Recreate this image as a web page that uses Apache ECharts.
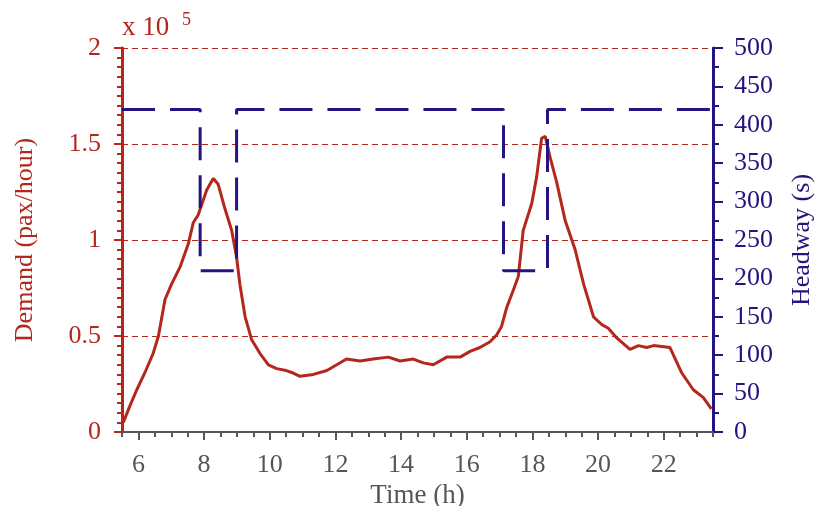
<!DOCTYPE html>
<html>
<head>
<meta charset="utf-8">
<script src="https://cdn.jsdelivr.net/npm/echarts@6/dist/echarts.min.js"></script>
<style>
  html, body { margin: 0; padding: 0; background: #fff; }
  #main { width: 828px; height: 506px; }
</style>
</head>
<body>
<div id="main"></div>
<script>
// 需求曲线（单位 x10^5 pax/hour）
var demandTime = [5.54, 5.75, 5.95, 6.2, 6.45, 6.61, 6.81, 7.01, 7.27, 7.52, 7.67, 7.82, 8.08, 8.28, 8.43,
  8.64, 8.84, 8.99, 9.09, 9.25, 9.45, 9.7, 9.96, 10.21, 10.5, 10.67, 10.92, 11.33, 11.74, 12.04,
  12.34, 12.75, 13.15, 13.61, 13.97, 14.37, 14.68, 14.98, 15.39, 15.8, 16.1, 16.4, 16.71, 16.91,
  17.06, 17.22, 17.42, 17.57, 17.72, 17.98, 18.13, 18.28, 18.39, 18.54, 18.74, 19.0, 19.3, 19.56,
  19.86, 20.11, 20.31, 20.57, 20.97, 21.23, 21.48, 21.69, 22.19, 22.54, 22.9, 23.2, 23.45];
var demandValue = [0.05, 0.14, 0.22, 0.31, 0.41, 0.5, 0.69, 0.77, 0.86, 0.98, 1.09, 1.13, 1.26, 1.32, 1.29,
  1.16, 1.05, 0.91, 0.77, 0.6, 0.48, 0.41, 0.35, 0.33, 0.32, 0.31, 0.29, 0.3, 0.32, 0.35,
  0.38, 0.37, 0.38, 0.39, 0.37, 0.38, 0.36, 0.35, 0.39, 0.39, 0.42, 0.44, 0.47, 0.505,
  0.55, 0.65, 0.74, 0.81, 1.05, 1.19, 1.33, 1.53, 1.54, 1.43, 1.3, 1.1, 0.95, 0.77,
  0.6, 0.56, 0.54, 0.49, 0.43, 0.45, 0.44, 0.45, 0.44, 0.31, 0.22, 0.18, 0.12];

// 发车间隔（秒），阶梯
var headwayTime = [5.5, 7.88, 7.88, 8.99, 8.99, 17.12, 17.12, 18.46, 18.46, 23.5];
var headwayValue = [420, 420, 210, 210, 420, 420, 210, 210, 420, 420];

// 刻度
var majorTicks = [6, 8, 10, 12, 14, 16, 18, 20, 22];

var red = '#b3271d';
var blue = '#231482';
var gray = '#55555c';
var serif = '"Liberation Serif", "DejaVu Serif", serif';

function pairs(xs, ys) {
  return xs.map(function (x, i) { return [x, ys[i]]; });
}

var myChart = echarts.init(document.getElementById('main'));
var option = {
  animation: false,
  backgroundColor: '#fff',
  grid: { left: 122, right: 115, top: 48, bottom: 74, outerBoundsMode: 'none', containLabel: false },
  graphic: [
    { type: 'text', left: 122, top: 14, style: { text: 'x 10', font: '27px ' + serif, fill: red } },
    { type: 'text', left: 182, top: 11, style: { text: '5', font: '18px ' + serif, fill: red } }
  ],
  xAxis: [
    {
      type: 'value', min: 5.5, max: 23.5, position: 'bottom',
      name: 'Time (h)', nameLocation: 'middle', nameGap: 45,
      nameTextStyle: { color: gray, fontSize: 27, fontFamily: serif },
      axisLine: { lineStyle: { color: gray, width: 2 } },
      axisTick: { customValues: majorTicks, length: 8, lineStyle: { color: gray, width: 2 } },
      axisLabel: { customValues: majorTicks, color: gray, fontSize: 26, fontFamily: serif, margin: 20 },
      splitLine: { show: false }
    },
    {
      type: 'value', min: 5.5, max: 23.5, interval: 0.5, position: 'bottom',
      axisLine: { show: false },
      axisTick: { length: 5, lineStyle: { color: gray, width: 2 } },
      axisLabel: { show: false },
      splitLine: { show: false }
    }
  ],
  yAxis: [
    {
      type: 'value', min: 0, max: 2, interval: 0.5, position: 'left',
      name: 'Demand (pax/hour)', nameLocation: 'middle', nameGap: 84,
      nameTextStyle: { color: red, fontSize: 26, fontFamily: serif },
      axisLine: { show: true, lineStyle: { color: red, width: 3 } },
      axisTick: { show: true, length: 8, lineStyle: { color: red, width: 2 } },
      minorTick: { show: true, splitNumber: 10, length: 5, lineStyle: { color: red, width: 2 } },
      axisLabel: { color: red, fontSize: 26, fontFamily: serif, margin: 21 },
      splitLine: { show: true, lineStyle: { color: red, width: 1, type: [6, 4] } }
    },
    {
      type: 'value', min: 0, max: 500, interval: 50, position: 'right',
      name: 'Headway (s)', nameLocation: 'middle', nameGap: 76,
      nameTextStyle: { color: blue, fontSize: 26, fontFamily: serif },
      axisLine: { show: true, lineStyle: { color: blue, width: 3 } },
      axisTick: { show: true, length: 10, lineStyle: { color: blue, width: 2 } },
      minorTick: { show: true, splitNumber: 2, length: 6, lineStyle: { color: blue, width: 2 } },
      axisLabel: { color: blue, fontSize: 26, fontFamily: serif, margin: 21 },
      splitLine: { show: false }
    }
  ],
  series: [
    {
      name: 'Demand', type: 'line', xAxisIndex: 0, yAxisIndex: 0,
      data: pairs(demandTime, demandValue),
      showSymbol: false, symbol: 'none',
      lineStyle: { color: red, width: 3 }
    },
    {
      name: 'Headway', type: 'line', xAxisIndex: 0, yAxisIndex: 1,
      data: pairs(headwayTime, headwayValue),
      showSymbol: false, symbol: 'none',
      lineStyle: { color: blue, width: 3, type: [33, 15] }
    }
  ]
};
myChart.setOption(option);
</script>
</body>
</html>
